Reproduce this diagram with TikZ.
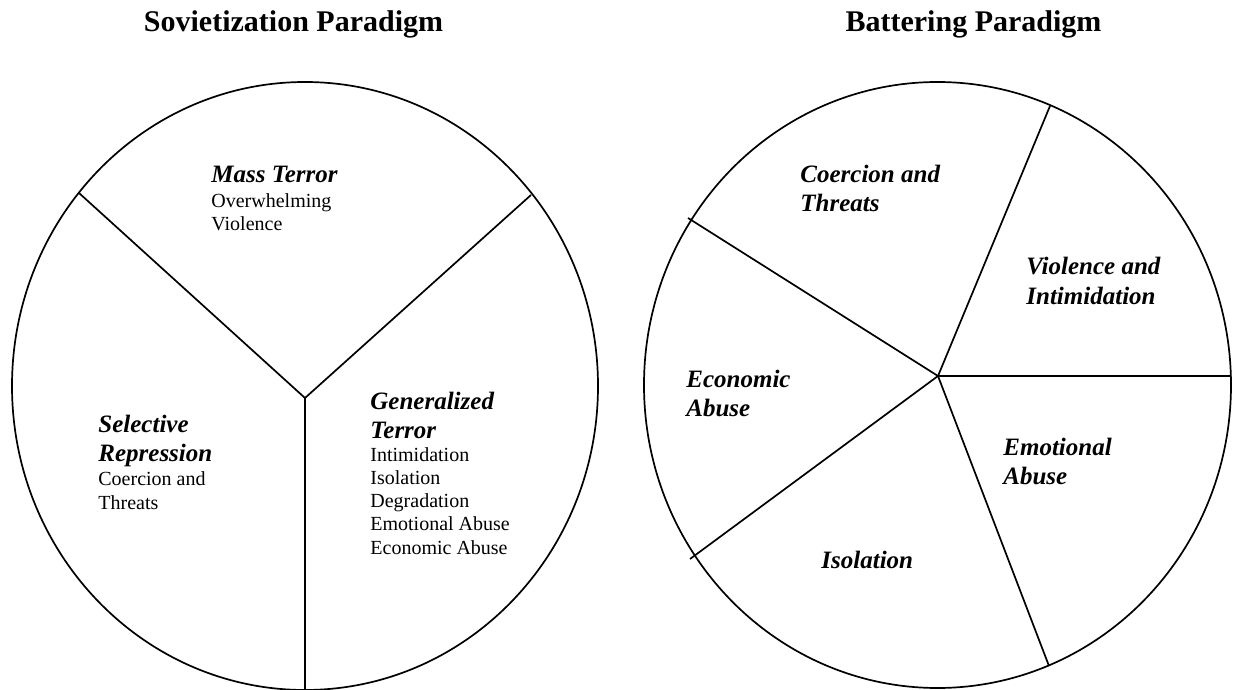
\documentclass[tikz,border=0pt]{standalone}
\usepackage{fontspec}
\setmainfont{Liberation Serif}
\usetikzlibrary{positioning}

\begin{document}
\begin{tikzpicture}[
            x=0.5pt, y=-0.5pt,
            wheel/.style={line width=0.85pt},
            heading/.style={font=\fontsize{15}{18}\selectfont\bfseries, inner sep=0pt, anchor=base},
            sector/.style={font=\fontsize{12.5}{14.5}\selectfont\bfseries\itshape, inner sep=0pt, anchor=base west, align=left},
            detail/.style={font=\fontsize{10}{11.6}\selectfont, inner sep=0pt, anchor=base west, align=left}
        ]
            \useasboundingbox (0,0) rectangle (1233,690);

            % Headings
            \node[heading] (sovtitle) at (293.5,32) {Sovietization Paradigm};
            \node[heading] (battitle) at (973.5,32) {Battering Paradigm};

            % Wheels
            \draw[wheel] (305,386) ellipse [x radius=293, y radius=304];
            \draw[wheel] (937.5,385) ellipse [x radius=293.5, y radius=303];

            % Hubs and rim points
            \coordinate (sovhub) at (305,398);
            \coordinate (sov1) at (79,193);
            \coordinate (sov2) at (531,195);
            \coordinate (sov3) at (305,690);
            \coordinate (bathub) at (938,376);
            \coordinate (bat1) at (1050,106);
            \coordinate (bat2) at (1231,376);
            \coordinate (bat3) at (1049,666);
            \coordinate (bat4) at (690,559);
            \coordinate (bat5) at (688,218);

            % Spokes
            \foreach \i in {1,2,3}
                \draw[wheel] (sovhub) -- (sov\i);
            \foreach \i in {1,...,5}
                \draw[wheel] (bathub) -- (bat\i);

            % Sovietization sectors (placed at the baseline of the last line)
            \node[sector] (mass) at (211,183) {Mass Terror};
            \node[detail] (massd) at (211,231) {Overwhelming\\Violence};
            \node[sector] (selective) at (98,461) {Selective\\Repression};
            \node[detail] (selectived) at (98,509) {Coercion and\\Threats};
            \node[sector] (general) at (370,438) {Generalized\\Terror};
            \node[detail] (generald) at (370,554) {Intimidation\\Isolation\\Degradation\\Emotional Abuse\\Economic Abuse};

            % Battering sectors
            \node[sector] (coercion) at (800,212) {Coercion and\\Threats};
            \node[sector] (violence) at (1026,304) {Violence and\\Intimidation};
            \node[sector] (economic) at (686,416) {Economic\\Abuse};
            \node[sector] (emotional) at (1003,484) {Emotional\\Abuse};
            \node[sector] (isolation) at (821,568) {Isolation};
        \end{tikzpicture}
\end{document}
